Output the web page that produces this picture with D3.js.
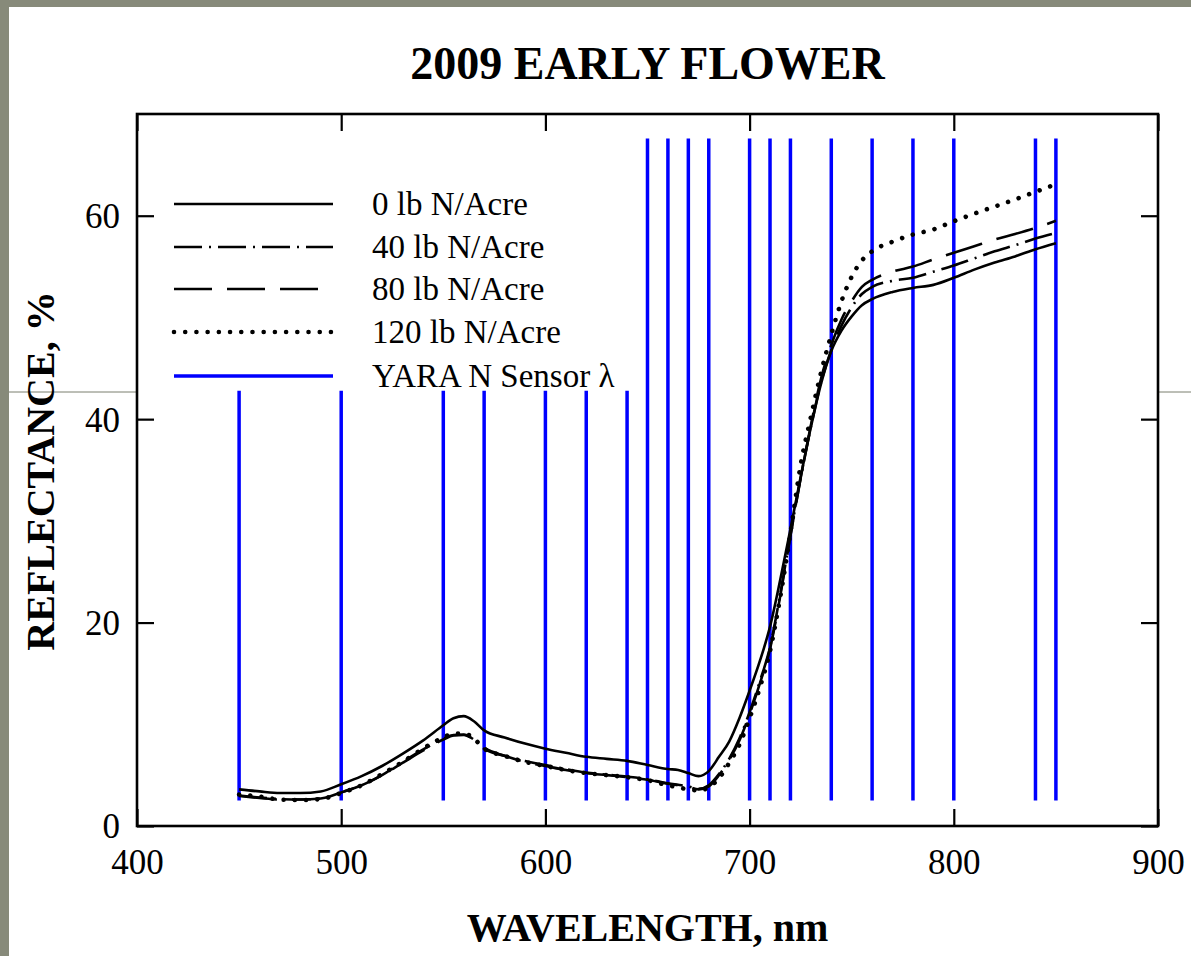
<!DOCTYPE html>
<html>
<head>
<meta charset="utf-8">
<script src="https://cdn.jsdelivr.net/npm/d3@7/dist/d3.min.js"></script>
<style>
  html, body { margin: 0; padding: 0; background: #fff; }
  svg { display: block; }
  text { font-family: "Times New Roman", "Liberation Serif", Times, serif; fill: #000; }
</style>
</head>
<body>
<svg id="chart" width="1191" height="956"></svg>
<script>
// Wavelength grid (nm) shared by all reflectance spectra
const wavelengths = [450,460,470,480,490,500,510,520,530,540,550,555,560,565,570,580,590,600,610,620,630,640,650,660,665,670,675,680,685,690,695,700,705,710,715,720,725,730,735,740,745,750,755,760,770,780,790,800,810,820,830,840,850];

// Canopy reflectance (%) for each nitrogen rate
const refl0 = [3.6,3.4,3.25,3.25,3.4,4.1,4.9,5.9,7.1,8.4,9.9,10.6,10.8,10.3,9.4,8.7,8.1,7.6,7.2,6.8,6.6,6.4,6.0,5.6,5.5,5.2,4.9,5.4,6.8,8.3,10.6,13.3,16.2,19.6,24.2,29.2,34.3,39.2,43.5,46.7,48.7,50.1,51.2,51.8,52.5,52.9,53.2,53.9,54.7,55.4,56.0,56.7,57.3];
const refl40 = [3.0,2.8,2.65,2.6,2.7,3.3,4.0,5.0,6.3,7.5,8.6,8.95,9.0,8.5,7.6,6.9,6.4,6.0,5.6,5.25,5.05,4.85,4.6,4.2,4.05,3.9,3.65,4.0,5.1,6.6,8.6,11.2,14.2,17.6,22.8,28.6,34.2,39.2,43.6,46.8,49.2,51.0,52.3,53.0,53.6,53.9,54.5,55.1,55.8,56.5,57.1,57.75,58.3];
const refl80 = [2.95,2.75,2.6,2.6,2.7,3.3,4.0,5.0,6.2,7.4,8.5,8.9,8.95,8.5,7.7,6.9,6.3,5.9,5.5,5.2,5.0,4.8,4.55,4.15,4.0,3.85,3.6,3.9,5.0,6.5,8.4,11.0,14.0,17.4,22.6,28.5,34.2,39.4,44.0,47.3,49.8,51.6,53.0,53.7,54.5,55.0,55.7,56.35,57.0,57.65,58.2,58.8,59.5];
const refl120 = [3.1,2.9,2.6,2.55,2.65,3.25,4.0,5.1,6.3,7.6,8.7,9.1,9.1,8.6,7.6,6.9,6.3,5.9,5.5,5.2,5.0,4.8,4.5,4.0,3.8,3.6,3.5,3.8,4.7,6.2,8.0,10.6,13.6,17.2,22.5,28.8,35.5,40.2,44.6,48.3,51.6,54.0,55.6,56.5,57.45,58.15,58.65,59.45,60.2,60.9,61.6,62.35,63.1];

// YARA N Sensor wavebands (nm) and the reflectance span each marker covers
const sensorBands = [450,500,550,570,600,620,640,650,660,670,680,700,710,720,740,760,780,800,840,850];
const bandTop = [42.8,42.8,42.8,42.8,42.8,42.8,42.8,67.6,67.6,67.6,67.6,67.6,67.6,67.6,67.6,67.6,67.6,67.6,67.6,67.6];
const bandBottom = 2.5;

// Series labels and axis tick labels
const seriesNames = ["0 lb N/Acre","40 lb N/Acre","80 lb N/Acre","120 lb N/Acre"];
const sensorName = "YARA N Sensor \u03bb";
const xTicks = [400,500,600,700,800,900];
const yTicks = [0,20,40,60];

const svg = d3.select("#chart");
const W = 1191, H = 956;

// Slide backdrop
svg.append("rect").attr("width", W).attr("height", H).attr("fill", "#878a7a");
svg.append("rect").attr("x", 9).attr("y", 7).attr("width", W - 9).attr("height", H - 7).attr("fill", "#fff");
svg.append("line").attr("x1", 9).attr("x2", W).attr("y1", 392).attr("y2", 392)
  .attr("stroke", "#7b7e6e").attr("stroke-width", 1);

const plot = { left: 137, right: 1158, top: 114, bottom: 826 };
const x = d3.scaleLinear().domain([400, 900]).range([plot.left, plot.right]);
const y = d3.scaleLinear().domain([0, 70]).range([plot.bottom, plot.top]);

// Plot panel
svg.append("rect")
  .attr("x", plot.left).attr("y", plot.top)
  .attr("width", plot.right - plot.left).attr("height", plot.bottom - plot.top)
  .attr("fill", "#fff");

// Sensor wavebands
svg.append("g").selectAll("line")
  .data(sensorBands)
  .join("line")
  .attr("x1", d => x(d)).attr("x2", d => x(d))
  .attr("y1", y(bandBottom))
  .attr("y2", (d, i) => y(bandTop[i]))
  .attr("stroke", "#0000ff").attr("stroke-width", 3.5);

// Spectra
const styles = [
  { dash: null, width: 2.6, cap: "butt" },
  { dash: "28 7 2 7", width: 2.6, cap: "butt" },
  { dash: "38 15", width: 2.6, cap: "butt" },
  { dash: "0.01 11.2", width: 4.6, cap: "round" }
];
const seriesValues = [refl0, refl40, refl80, refl120];
const line = d3.line()
  .x(d => x(d[0])).y(d => y(d[1]))
  .curve(d3.curveMonotoneX);

seriesValues.forEach((vals, i) => {
  svg.append("path")
    .datum(wavelengths.map((w, k) => [w, vals[k]]))
    .attr("d", line)
    .attr("fill", "none")
    .attr("stroke", "#000")
    .attr("stroke-width", styles[i].width)
    .attr("stroke-linecap", styles[i].cap)
    .attr("stroke-dasharray", styles[i].dash);
});

// Axes: inward ticks on all four sides
const tickLen = 17;
function styleAxis(g) {
  g.select(".domain").remove();
  g.selectAll(".tick line").attr("stroke", "#000").attr("stroke-width", 2.2);
}
svg.append("g").attr("transform", `translate(0,${plot.bottom})`)
  .call(d3.axisBottom(x).tickValues(xTicks).tickSizeInner(-tickLen).tickSizeOuter(0).tickFormat(d3.format("d")))
  .call(styleAxis)
  .call(g => g.selectAll(".tick text").attr("y", 48).attr("dy", 0)
    .attr("font-size", 35).attr("font-family", "Times New Roman, Liberation Serif, serif"));
svg.append("g").attr("transform", `translate(0,${plot.top})`)
  .call(d3.axisTop(x).tickValues(xTicks).tickSizeInner(-tickLen).tickSizeOuter(0).tickFormat(""))
  .call(styleAxis);
svg.append("g").attr("transform", `translate(${plot.left},0)`)
  .call(d3.axisLeft(y).tickValues(yTicks).tickSizeInner(-tickLen).tickSizeOuter(0).tickPadding(17).tickFormat(d3.format("d")))
  .call(styleAxis)
  .call(g => g.selectAll(".tick text").attr("dy", "0.34em")
    .attr("font-size", 35).attr("font-family", "Times New Roman, Liberation Serif, serif"));
svg.append("g").attr("transform", `translate(${plot.right},0)`)
  .call(d3.axisRight(y).tickValues(yTicks).tickSizeInner(-tickLen).tickSizeOuter(0).tickFormat(""))
  .call(styleAxis);

// Frame
svg.append("rect")
  .attr("x", plot.left).attr("y", plot.top)
  .attr("width", plot.right - plot.left).attr("height", plot.bottom - plot.top)
  .attr("fill", "none").attr("stroke", "#000").attr("stroke-width", 2.6);

// Titles
svg.append("text")
  .attr("x", (plot.left + plot.right) / 2).attr("y", 79)
  .attr("text-anchor", "middle").attr("font-size", 46).attr("font-weight", "bold")
  .text("2009 EARLY FLOWER");
svg.append("text")
  .attr("x", (plot.left + plot.right) / 2).attr("y", 941)
  .attr("text-anchor", "middle").attr("font-size", 40).attr("font-weight", "bold")
  .text("WAVELENGTH, nm");
svg.append("text")
  .attr("transform", "translate(54,471) rotate(-90)")
  .attr("text-anchor", "middle").attr("font-size", 40).attr("font-weight", "bold")
  .text("REFLECTANCE, %");

// Legend
const legendRows = [204, 247, 289, 332, 376];
const legend = svg.append("g");
seriesNames.forEach((name, i) => {
  legend.append("line")
    .attr("x1", 174).attr("x2", 333).attr("y1", legendRows[i]).attr("y2", legendRows[i])
    .attr("stroke", "#000").attr("stroke-width", styles[i].width)
    .attr("stroke-linecap", styles[i].cap)
    .attr("stroke-dasharray", styles[i].dash);
  legend.append("text")
    .attr("x", 372).attr("y", legendRows[i] + 11)
    .attr("font-size", 33).text(name);
});
legend.append("line")
  .attr("x1", 174).attr("x2", 333).attr("y1", legendRows[4]).attr("y2", legendRows[4])
  .attr("stroke", "#0000ff").attr("stroke-width", 3.5);
legend.append("text")
  .attr("x", 372).attr("y", legendRows[4] + 11)
  .attr("font-size", 33).text(sensorName);
</script>
</body>
</html>
